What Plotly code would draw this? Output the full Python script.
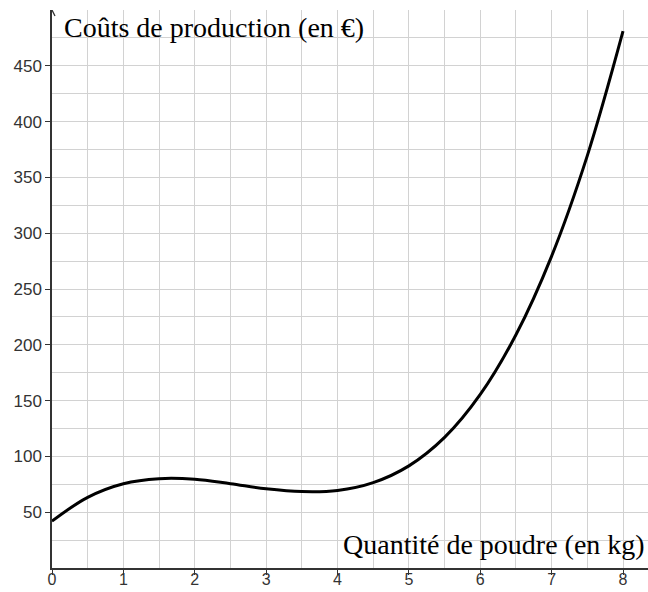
import plotly.graph_objects as go

# Values
quantite_kg = [0, 0.5, 1, 1.5, 2, 2.5, 3, 3.5, 4, 4.5, 5, 5.5, 6, 6.5, 7, 7.5, 8]
couts_eur = [42, 63.3, 75.5, 80, 79.5, 75.5, 71, 68.5, 69.5, 76.5, 91.5, 117, 155.5, 209, 279.5, 369.5, 481]
x_ticks = [0, 1, 2, 3, 4, 5, 6, 7, 8]
y_ticks = [50, 100, 150, 200, 250, 300, 350, 400, 450]

grid_col = "#d2d2d2"
axis_col = "#333333"
tick_font = dict(family="Liberation Sans, Arial, sans-serif", size=16, color="#333333")
ytick_font = dict(family="Liberation Sans, Arial, sans-serif", size=17, color="#333333")
label_font = dict(family="Liberation Serif, Times New Roman, serif", size=28, color="#000000")

fig = go.Figure()
fig.add_trace(go.Scatter(
    x=quantite_kg, y=couts_eur, mode="lines",
    line=dict(color="#000000", width=3, shape="spline", smoothing=1.0),
    hoverinfo="skip", showlegend=False,
))

fig.update_layout(
    width=648, height=592,
    margin=dict(l=52, r=0, t=10, b=24),
    paper_bgcolor="white", plot_bgcolor="white",
    showlegend=False,
    xaxis=dict(
        range=[0, 8.35], tickvals=x_ticks, ticktext=[str(v) for v in x_ticks],
        showgrid=True, gridcolor=grid_col, gridwidth=1.2,
        minor=dict(dtick=0.5, showgrid=True, gridcolor=grid_col, gridwidth=1.2, ticks=""),
        showline=True, linecolor=axis_col, linewidth=1.5,
        ticks="outside", ticklen=5, tickcolor=axis_col, tickwidth=1.2,
        ticklabelstandoff=-9,
        tickfont=tick_font, zeroline=False, fixedrange=True, automargin=False,
    ),
    yaxis=dict(
        range=[0, 500], tickvals=y_ticks, ticktext=[str(v) for v in y_ticks],
        showgrid=True, gridcolor=grid_col, gridwidth=1.2,
        minor=dict(dtick=25, showgrid=True, gridcolor=grid_col, gridwidth=1.2, ticks=""),
        showline=True, linecolor=axis_col, linewidth=1.5,
        ticks="outside", ticklen=5, tickcolor=axis_col, tickwidth=1.2,
        tickfont=ytick_font, zeroline=False, fixedrange=True, automargin=False,
    ),
)

# arrow head on the y axis
fig.add_shape(type="path", xref="x", yref="y", xsizemode="pixel", ysizemode="pixel",
              xanchor=0, yanchor=500, path="M -3,-6 L 0,0 L 3,-6",
              line=dict(color=axis_col, width=1.3))

fig.add_annotation(text="Coûts de production (en €)", xref="paper", yref="paper",
                   x=0.017, y=1.0, xanchor="left", yanchor="top", showarrow=False,
                   font=label_font)
fig.add_annotation(text="Quantité de poudre (en kg)", xref="paper", yref="paper",
                   x=0.998, y=0.01, xanchor="right", yanchor="bottom", showarrow=False,
                   font=label_font)

fig.write_html("out.html", config={"displayModeBar": False},
               post_script="document.body.style.margin='0';document.body.style.overflow='hidden';")
